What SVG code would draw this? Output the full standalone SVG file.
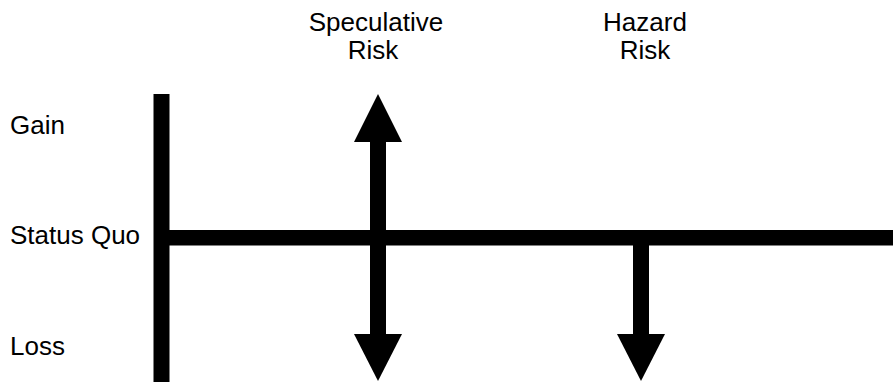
<svg xmlns="http://www.w3.org/2000/svg" width="893" height="382" viewBox="0 0 893 382">
<style>
text{font-family:"Liberation Sans",Arial,sans-serif;font-size:26px;fill:#000}
.c{text-anchor:middle}
.bar{fill:#000}
</style>
<rect width="893" height="382" fill="#fff"/>
<g id="labels">
<text x="10" y="133.5">Gain</text>
<text x="10" y="243.5">Status Quo</text>
<text x="10" y="355">Loss</text>
</g>
<g id="speculative-label"><text class="c" x="376" y="31">Speculative</text><text class="c" x="373" y="58.5">Risk</text></g>
<g id="hazard-label"><text class="c" x="645" y="31">Hazard</text><text class="c" x="645" y="58.5">Risk</text></g>
<g id="connectors">
<rect class="bar" x="153.5" y="94" width="16" height="288"/>
<rect class="bar" x="169" y="230" width="724" height="15.5"/>
<g id="speculative-arrow">
<rect class="bar" x="370" y="140" width="16" height="196"/>
<polygon class="bar" points="378,94 402,142 354,142"/>
<polygon class="bar" points="354,334 402,334 378,381"/>
</g>
<g id="hazard-arrow">
<rect class="bar" x="633" y="244" width="16" height="92"/>
<polygon class="bar" points="617,334 665,334 641,381"/>
</g>
</g>
</svg>
